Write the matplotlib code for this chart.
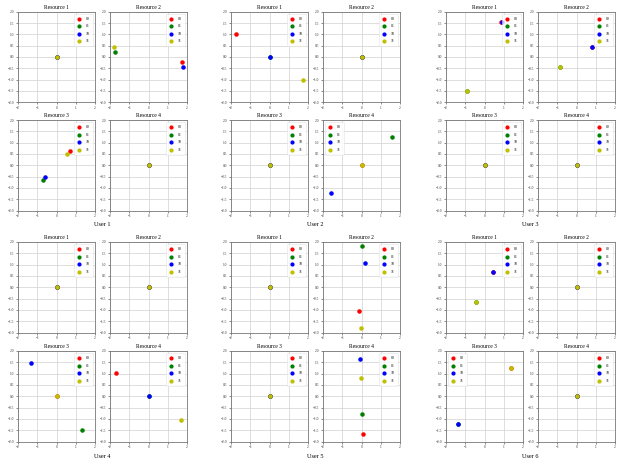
import matplotlib
matplotlib.use("Agg")
import matplotlib.pyplot as plt

# Constellation points per user: one list per resource, order 00, 01, 10, 11
labels = ['00', '01', '10', '11']
colors = ['red', 'green', 'blue', 'y']
resources = ['Resource 1', 'Resource 2', 'Resource 3', 'Resource 4']
users = ['User 1', 'User 2', 'User 3', 'User 4', 'User 5', 'User 6']

user1_x = [[0, 0, 0, 0], [1.74, -1.76, 1.79, -1.77], [0.71, -0.71, -0.59, 0.57], [0, 0, 0, 0]]
user1_y = [[0, 0, 0, 0], [-0.21, 0.22, -0.43, 0.44], [0.61, -0.64, -0.53, 0.49], [0, 0, 0, 0]]

user2_x = [[-1.72, 0, 0.03, 1.72], [0, 0, 0, 0], [0, 0, 0, 0], [0, 1.56, -1.6, 0]]
user2_y = [[1.03, 0, 0, -1.01], [0, 0, 0, 0], [0, 0, 0, 0], [0, 1.24, -1.24, 0]]

user3_x = [[0.87, -0.91, 0.89, -0.91], [0.79, -0.88, 0.79, -0.88], [0, 0, 0, 0], [0, 0, 0, 0]]
user3_y = [[1.53, -1.51, 1.53, -1.51], [0.46, -0.43, 0.46, -0.43], [0, 0, 0, 0], [0, 0, 0, 0]]

user4_x = [[0, 0, 0, 0], [0, 0, 0, 0], [0, 1.34, -1.32, 0], [-1.69, 0, 0, 1.70]]
user4_y = [[0, 0, 0, 0], [0, 0, 0, 0], [0, -1.5, 1.49, 0], [1.03, 0, 0, -1.07]]

user5_x = [[0, 0, 0, 0], [-0.12, 0.05, 0.16, -0.02], [0, 0, 0, 0], [0.09, 0.05, -0.07, -0.05]]
user5_y = [[0, 0, 0, 0], [-1.05, 1.82, 1.07, -1.82], [0, 0, 0, 0], [-1.66, -0.79, 1.66, 0.79]]

user6_x = [[0.42, -0.44, 0.42, -0.44], [0, 0, 0, 0], [1.37, -1.37, -1.37, 1.37], [0, 0, 0, 0]]
user6_y = [[0.67, -0.67, 0.67, -0.67], [0, 0, 0, 0], [1.24, -1.24, -1.24, 1.24], [0, 0, 0, 0]]

all_x = [user1_x, user2_x, user3_x, user4_x, user5_x, user6_x]
all_y = [user1_y, user2_y, user3_y, user4_y, user5_y, user6_y]

plt.rcParams['font.family'] = ['Liberation Serif', 'DejaVu Serif']

W, H = 623, 463
fig = plt.figure(figsize=(W / 100, H / 100), dpi=100)

# layout in pixels
col_lefts = [18, 110, 231, 323, 446, 538]
row_tops = [11.7, 120, 242, 351]
aw, ah = 77, 90.5

for u in range(6):
    gx = u % 3
    gy = u // 3
    for r in range(4):
        left = col_lefts[gx * 2 + r % 2]
        top = row_tops[gy * 2 + r // 2]
        ax = fig.add_axes([left / W, 1 - (top + ah) / H, aw / W, ah / H])
        for k in range(4):
            ax.scatter(all_x[u][r][k], all_y[u][r][k], s=5, color=colors[k],
                       label=labels[k], zorder=3)
        ax.set_xlim(-2, 2)
        ax.set_ylim(-2, 2)
        ax.set_xticks([-2, -1, 0, 1, 2])
        ax.set_yticks([-2, -1.5, -1, -0.5, 0, 0.5, 1, 1.5, 2])
        ax.grid(True, color='#d0d0d0', linewidth=0.5)
        ax.set_axisbelow(True)
        ax.tick_params(labelsize=2.6, length=1.5, width=0.4, pad=1, colors='#333333')
        for sp in ax.spines.values():
            sp.set_color('#777777')
            sp.set_linewidth(0.6)
        ax.set_title(resources[r], fontsize=4, pad=2)
        ax.legend(loc='best', fontsize=2.8, markerscale=0.9, handletextpad=1.2,
                  labelspacing=0.9, borderpad=0.8, handlelength=1, framealpha=0.8,
                  edgecolor='#dddddd').get_frame().set_linewidth(0.4)
    cx = (col_lefts[gx * 2] + col_lefts[gx * 2 + 1] + aw) / 2
    cy = [225, 457][gy]
    fig.text(cx / W, 1 - cy / H, users[u], fontsize=4.5, ha='center', va='center')

fig.savefig('out.png', dpi=100)
